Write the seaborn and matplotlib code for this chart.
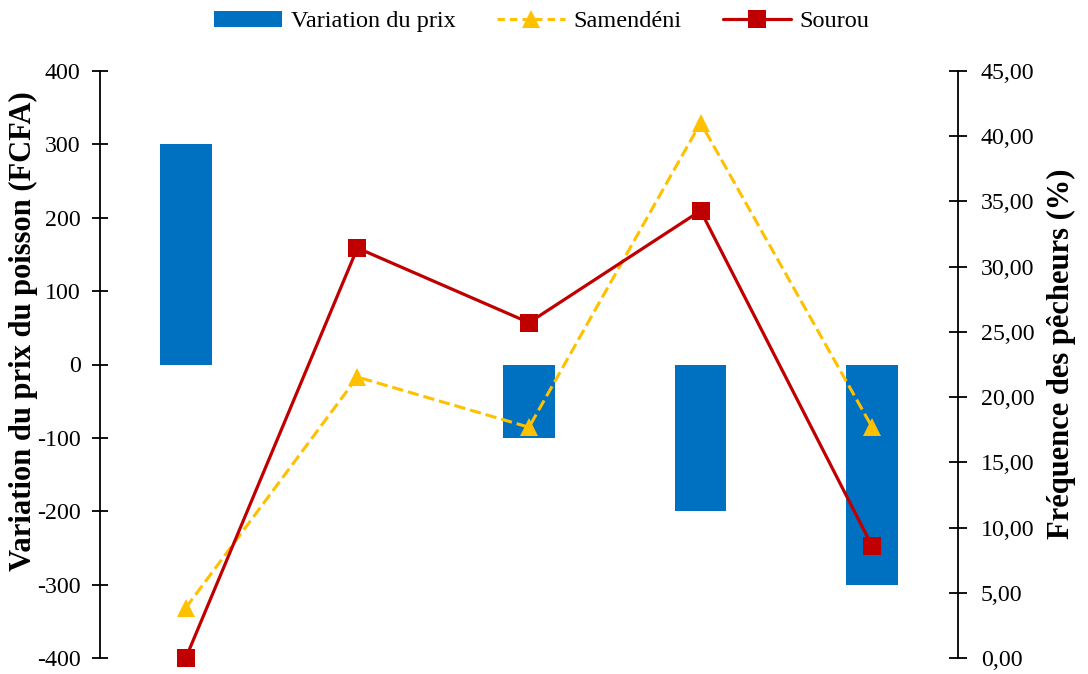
import matplotlib
matplotlib.use("Agg")
import matplotlib.pyplot as plt
import seaborn as sns
import numpy as np
import pandas as pd
from matplotlib.lines import Line2D

categories = ["C1", "C2", "C3", "C4", "C5"]
variation_prix = [300, 0, -100, -200, -300]
samendeni = [3.85, 21.54, 17.69, 41.03, 17.69]
sourou = [0.00, 31.43, 25.71, 34.29, 8.57]
left_ticks = [-400, -300, -200, -100, 0, 100, 200, 300, 400]
right_ticks = [0, 5, 10, 15, 20, 25, 30, 35, 40, 45]

sns.set_theme(style="white")
plt.rcParams['font.family'] = ['Liberation Serif', 'DejaVu Serif']
plt.rcParams['text.color'] = 'black'
plt.rcParams['axes.labelcolor'] = 'black'
plt.rcParams['xtick.color'] = 'black'
plt.rcParams['ytick.color'] = 'black'

W, H = 1088, 674
fig = plt.figure(figsize=(W / 100, H / 100), dpi=100)
ax = fig.add_axes([100 / W, 1 - 658 / H, 858 / W, 587 / H])

df = pd.DataFrame({"cat": categories, "var": variation_prix,
                   "sam": samendeni, "sou": sourou, "pos": np.arange(len(categories))})

sns.barplot(data=df, x="cat", y="var", ax=ax, color="#0070C0", width=0.3,
            saturation=1, linewidth=0)
ax.set_ylim(-400, 400)
ax.set_xlim(-0.5, len(categories) - 0.5)
ax.set_yticks(left_ticks)
ax.set_yticklabels([str(t) for t in left_ticks])
ax.set_xticks([])
ax.set_xlabel("")
ax.set_ylabel("Variation du prix du poisson (FCFA)", fontsize=22, fontweight="bold", color="black")
ax.yaxis.set_label_coords((38 - 100) / 858, (658 - 331) / 587)
for s in ["top", "bottom", "right"]:
    ax.spines[s].set_visible(False)
ax.spines["left"].set_color("black")
ax.spines["left"].set_linewidth(1.3)
ax.tick_params(axis="y", direction="inout", length=12, width=1.3, colors="black",
               labelsize=17.2, pad=8, left=True)

SAM_DASH = (2.4, 1.7)
ax2 = ax.twinx()
sns.lineplot(data=df, x="pos", y="sam", ax=ax2, color="#FFC000", linestyle="--",
             linewidth=2.2, marker="^", markersize=12.5, markeredgewidth=0,
             dashes=SAM_DASH, clip_on=False)
sns.lineplot(data=df, x="pos", y="sou", ax=ax2, color="#C00000", linestyle="-",
             linewidth=2.3, marker="s", markersize=13.5, markeredgewidth=0,
             clip_on=False)
ax2.set_ylim(0, 45)
ax2.set_xlim(-0.5, len(categories) - 0.5)
ax2.set_yticks(right_ticks)
ax2.set_yticklabels([f"{t:.2f}".replace(".", ",") for t in right_ticks])
ax2.set_xlabel("")
ax2.set_ylabel("Fréquence des pêcheurs (%)", fontsize=22, fontweight="bold", color="black")
ax2.yaxis.set_label_coords((1047 - 100) / 858, (658 - 354) / 587)
for s in ["top", "bottom", "left"]:
    ax2.spines[s].set_visible(False)
ax2.spines["right"].set_color("black")
ax2.spines["right"].set_linewidth(1.3)
ax2.tick_params(axis="y", direction="inout", length=13, width=1.3, colors="black",
                labelsize=17.2, pad=10, right=True)
ax2.grid(False)
ax.grid(False)

handles = [
    Line2D([0], [0], color="#0070C0", linewidth=11.5, solid_capstyle="butt"),
    Line2D([0], [0], color="#FFC000", linestyle="--", dashes=SAM_DASH, linewidth=2.2,
           marker="^", markersize=12.5, markeredgewidth=0),
    Line2D([0], [0], color="#C00000", linestyle="-", linewidth=2.3, marker="s",
           markersize=13.5, markeredgewidth=0),
]
labels = ["Variation du prix", "Samendéni", "Sourou"]
fig.legend(handles, labels, loc="center", bbox_to_anchor=(542 / W, 1 - 21 / H), ncol=3,
           frameon=False, fontsize=17.5, handlelength=2.8, columnspacing=1.7,
           handletextpad=0.35, borderpad=0.1)

fig.savefig("out.png", dpi=100)
